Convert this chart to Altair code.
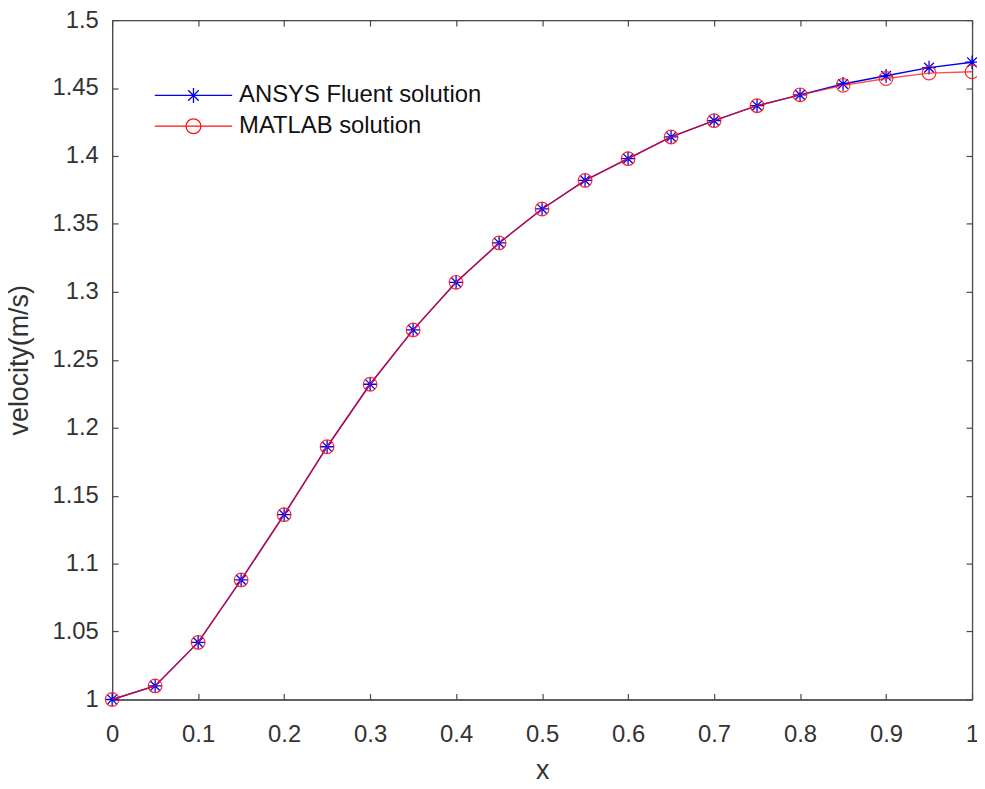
import altair as alt
import pandas as pd

x_vals = [0.0, 0.05, 0.1, 0.15, 0.2, 0.25, 0.3, 0.35, 0.4, 0.45, 0.5,
          0.55, 0.6, 0.65, 0.7, 0.75, 0.8, 0.85, 0.9, 0.95, 1.0]
fluent_vals = [1.000, 1.010, 1.042, 1.088, 1.136, 1.186, 1.232, 1.272, 1.307, 1.336, 1.361,
               1.382, 1.398, 1.414, 1.426, 1.437, 1.445, 1.453, 1.459, 1.465, 1.469]
matlab_vals = [1.000, 1.010, 1.042, 1.088, 1.136, 1.186, 1.232, 1.272, 1.307, 1.336, 1.361,
               1.382, 1.398, 1.414, 1.426, 1.437, 1.445, 1.452, 1.457, 1.461, 1.462]
series_names = ["ANSYS Fluent solution", "MATLAB solution"]
series_colors = ["#0000ee", "#ff1010"]
x_ticks = [0, 0.1, 0.2, 0.3, 0.4, 0.5, 0.6, 0.7, 0.8, 0.9, 1]
y_ticks = [1, 1.05, 1.1, 1.15, 1.2, 1.25, 1.3, 1.35, 1.4, 1.45, 1.5]

df = pd.concat([
    pd.DataFrame({"x": x_vals, "v": fluent_vals, "series": series_names[0]}),
    pd.DataFrame({"x": x_vals, "v": matlab_vals, "series": series_names[1]}),
])

FONT = "Liberation Sans"
AX_COLOR = "#4a4a4a"
TXT_COLOR = "#333333"

star = "M0,-1V1M-1,0H1M-0.71,-0.71L0.71,0.71M-0.71,0.71L0.71,-0.71"
leg_star = "M-5.2,0H5.2M0,-1V1M-0.71,-0.71L0.71,0.71M-0.71,0.71L0.71,-0.71"
leg_circle = "M-5.2,0H5.2M-1,0A1,1,0,1,1,1,0A1,1,0,1,1,-1,0"

xs = alt.Scale(domain=[0, 1], nice=False, zero=False)
ys = alt.Scale(domain=[1, 1.5], nice=False, zero=False)
tick_in = {"expr": "-6"}

x_bottom = alt.X("x:Q", scale=xs, axis=alt.Axis(
    title="x", values=x_ticks, format="~g", orient="bottom", grid=False,
    tickSize=tick_in, labelPadding=29, titlePadding=12, labelFlush=False))
y_left = alt.Y("v:Q", scale=ys, axis=alt.Axis(
    title="velocity(m/s)", values=y_ticks, format="~g", orient="left", grid=False,
    tickSize=tick_in, labelPadding=20, titlePadding=19, labelFlush=False))
x_top = alt.X("x:Q", scale=xs, axis=alt.Axis(
    title=None, values=x_ticks, orient="top", grid=False, labels=False,
    tickSize=tick_in))
y_right = alt.Y("v:Q", scale=ys, axis=alt.Axis(
    title=None, values=y_ticks, orient="right", grid=False, labels=False,
    tickSize=tick_in))
x_plain = alt.X("x:Q", scale=xs, axis=None)
y_plain = alt.Y("v:Q", scale=ys, axis=None)

base = alt.Chart(df)

f_data = base.transform_filter(alt.datum.series == series_names[0])
m_data = base.transform_filter(alt.datum.series == series_names[1])

l1 = f_data.mark_line(color=series_colors[0], strokeWidth=1.4).encode(x=x_bottom, y=y_left)
p1 = f_data.mark_point(filled=False, color=series_colors[0], strokeWidth=1.3, size=190,
                       shape=star, opacity=1).encode(x=x_plain, y=y_plain)
l2 = m_data.mark_line(color=series_colors[1], strokeWidth=1.4, opacity=0.75).encode(x=x_top, y=y_right)
p2 = m_data.mark_point(filled=False, color=series_colors[1], strokeWidth=1.2, size=190,
                       shape="circle", opacity=0.85).encode(x=x_plain, y=y_plain)

leg = alt.Legend(title=None, orient="none", legendX=70, legendY=64,
                 labelFont=FONT, labelFontSize=24, labelColor="#111111", labelLimit=500,
                 symbolSize=225, symbolStrokeWidth=1.3, labelOffset=34,
                 rowPadding=7, symbolFillColor="transparent")

legend_layer = base.transform_filter("false").mark_point(filled=False, strokeWidth=1.3, opacity=1).encode(
    x=x_plain,
    y=y_plain,
    shape=alt.Shape("series:N", scale=alt.Scale(domain=series_names, range=[leg_star, leg_circle]),
                    legend=leg),
    stroke=alt.Stroke("series:N", scale=alt.Scale(domain=series_names, range=series_colors),
                      legend=leg),
)

chart = alt.layer(l1, p1, l2, p2, legend_layer).resolve_axis(
    x="independent", y="independent"
).properties(
    width=867, height=685,
    autosize=alt.AutoSizeParams(type="none"),
    padding={"left": 105, "top": 9, "right": 5, "bottom": 80},
    background="white",
).configure_view(
    stroke=AX_COLOR, strokeWidth=1
).configure_axis(
    domainColor=AX_COLOR, domainWidth=1.3, tickColor=AX_COLOR, tickWidth=1.2,
    labelFont=FONT, labelFontSize=24, labelColor=TXT_COLOR,
    titleFont=FONT, titleFontSize=27, titleColor=TXT_COLOR, titleFontWeight="normal",
)

chart.save("out.html", embed_options={"renderer": "svg", "actions": False})
